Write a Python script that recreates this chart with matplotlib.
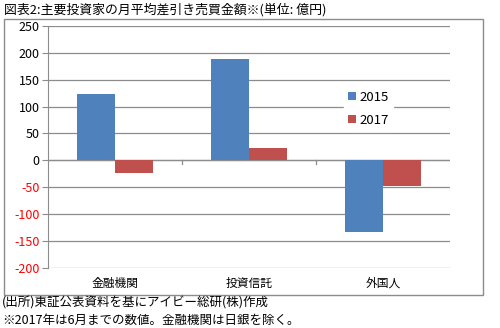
import numpy as np
import matplotlib.pyplot as plt
from matplotlib.patches import Rectangle

plt.rcParams['font.family'] = ['Noto Sans CJK JP', 'DejaVu Sans']

categories = ["金融機関", "投資信託", "外国人"]
series_names = ["2015", "2017"]
values_2015 = [123, 188, -133]
values_2017 = [-23, 23, -47]
yticks = [250, 200, 150, 100, 50, 0, -50, -100, -150, -200]

title = "図表2:主要投資家の月平均差引き売買金額※(単位: 億円)"
note1 = "(出所)東証公表資料を基にアイビー総研(株)作成"
note2 = "※2017年は6月までの数値。金融機関は日銀を除く。"

blue = "#4F81BD"
red = "#C0504D"

fig = plt.figure(figsize=(5, 3.28), dpi=100)
ax = fig.add_axes([0.096, 0.183, 0.804, 0.738])

x = np.arange(len(categories))
w = 0.28
ax.bar(x - w / 2, values_2015, w, color=blue, label=series_names[0], zorder=3)
ax.bar(x + w / 2, values_2017, w, color=red, label=series_names[1], zorder=3)

ax.set_xlim(-0.5, len(categories) - 0.5)
ax.set_ylim(-200, 250)
ax.set_yticks(yticks)
ax.set_yticklabels([str(v) for v in yticks], fontsize=9)
for lab, v in zip(ax.get_yticklabels(), yticks):
    if v < 0:
        lab.set_color("red")
ax.yaxis.grid(True, color="#8c8c8c", linewidth=0.9, zorder=0)
ax.tick_params(axis="y", length=4, color="#8c8c8c", pad=2)

ax.set_xticks([])
ax.axhline(0, color="#8c8c8c", linewidth=0.9, zorder=2)
for b in [0.5, 1.5]:
    ax.plot([b, b], [0, -6], color="#8c8c8c", linewidth=0.9, zorder=2, clip_on=False)

for s in ["top", "right", "bottom"]:
    ax.spines[s].set_visible(False)
ax.spines["left"].set_color("#8c8c8c")

for i, c in enumerate(categories):
    fig.text((48 + 67 + 134 * i) / 500, 1 - 283 / 328, c, fontsize=8.5, ha="center", va="center")

leg = ax.legend(loc="upper left", bbox_to_anchor=(0.72, 0.775), frameon=True, fontsize=9.5,
                handlelength=0.6, handleheight=0.6, labelspacing=0.75, borderpad=0.3,
                handletextpad=0.3)
leg.get_frame().set_edgecolor("white")
leg.get_frame().set_facecolor("white")
leg.get_frame().set_alpha(1)

fig.patches.append(Rectangle((4 / 500, 1 - 295 / 328), 479 / 500, 276 / 328,
                             transform=fig.transFigure, fill=False,
                             edgecolor="#8c8c8c", linewidth=1))

fig.text(4 / 500, 1 - 10 / 328, title, fontsize=9.3, ha="left", va="center")
fig.text(2 / 500, 1 - 303 / 328, note1, fontsize=9, ha="left", va="center")
fig.text(2 / 500, 1 - 320 / 328, note2, fontsize=9, ha="left", va="center")

fig.savefig("out.png", dpi=100)
